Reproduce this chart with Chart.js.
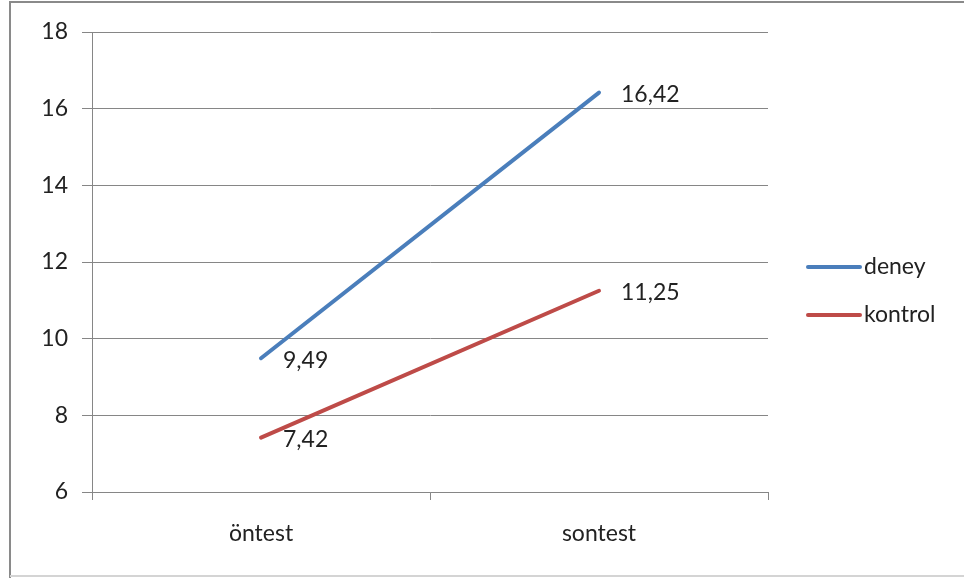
<!DOCTYPE html>
<html>
<head>
<meta charset="utf-8">
<script src="https://cdn.jsdelivr.net/npm/chart.js@4"></script>
<style>
  html, body { margin: 0; padding: 0; background: #fff; }
  #wrap { width: 964px; height: 578px; }
</style>
</head>
<body>
<div id="wrap"><canvas id="chart" width="964" height="578"></canvas></div>
<script>
const categories = ["öntest", "sontest"];
const deney = [9.49, 16.42];
const kontrol = [7.42, 11.25];
const deneyLabels = ["9,49", "16,42"];
const kontrolLabels = ["7,42", "11,25"];
const yTicks = [6, 8, 10, 12, 14, 16, 18];

const FONT = "Lato, 'Open Sans', sans-serif";
const BLUE = "#4a7ebb";
const RED = "#be4b48";
const GRID = "#868686";

// frame, data labels and the right-hand legend
const extras = {
    id: "extras",
    beforeDraw(chart) {
        const ctx = chart.ctx;
        ctx.save();
        ctx.fillStyle = "#fff";
        ctx.fillRect(0, 0, 964, 578);
        ctx.strokeStyle = "#8a8a8a";
        ctx.lineWidth = 2;
        ctx.beginPath();
        ctx.moveTo(10, 578);
        ctx.lineTo(10, 2);
        ctx.lineTo(964, 2);
        ctx.stroke();
        ctx.strokeStyle = "#d4d4d4";
        ctx.beginPath();
        ctx.moveTo(10, 576);
        ctx.lineTo(964, 576);
        ctx.stroke();
        ctx.restore();
    },
    afterDatasetsDraw(chart) {
        const ctx = chart.ctx;
        ctx.save();
        ctx.font = "23px " + FONT;
        ctx.fillStyle = "#222";
        ctx.textBaseline = "middle";
        const sets = [deneyLabels, kontrolLabels];
        sets.forEach((labels, di) => {
            chart.getDatasetMeta(di).data.forEach((pt, i) => {
                ctx.fillText(labels[i], pt.x + 22, pt.y + 2);
            });
        });
        // legend
        const items = [["deney", BLUE], ["kontrol", RED]];
        items.forEach(([name, color], i) => {
            const y = 267 + i * 48;
            ctx.strokeStyle = color;
            ctx.lineWidth = 4;
            ctx.lineCap = "round";
            ctx.beginPath();
            ctx.moveTo(808, y);
            ctx.lineTo(860, y);
            ctx.stroke();
            ctx.fillText(name, 864, y);
        });
        ctx.restore();
    }
};

new Chart(document.getElementById("chart"), {
    type: "line",
    data: {
        labels: categories,
        datasets: [
            { label: "deney", data: deney, borderColor: BLUE, borderWidth: 4, pointRadius: 0, borderCapStyle: "round" },
            { label: "kontrol", data: kontrol, borderColor: RED, borderWidth: 4, pointRadius: 0, borderCapStyle: "round" }
        ]
    },
    options: {
        responsive: false,
        animation: false,
        layout: { padding: { left: 0, top: 32, right: 196, bottom: 0 } },
        plugins: { legend: { display: false }, tooltip: { enabled: false } },
        scales: {
            x: {
                offset: true,
                grid: { offset: true, drawOnChartArea: false, color: GRID, tickLength: 8 },
                border: { color: GRID },
                ticks: { color: "#222", font: { family: FONT, size: 23 }, padding: 20 },
                afterFit: s => { s.height = 86; }
            },
            y: {
                min: 6,
                max: 18,
                afterBuildTicks: s => { s.ticks = yTicks.map(v => ({ value: v })); },
                grid: { color: GRID, tickLength: 10 },
                border: { color: GRID },
                ticks: { color: "#222", font: { family: FONT, size: 23 }, padding: 14 },
                afterFit: s => { s.width = 92; }
            }
        }
    },
    plugins: [extras]
});
</script>
</body>
</html>
